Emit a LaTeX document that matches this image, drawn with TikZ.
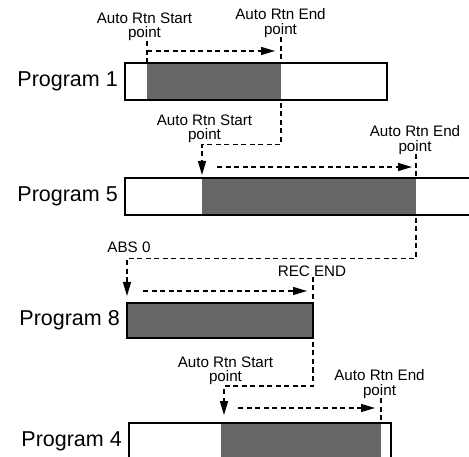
\documentclass[tikz,border=0pt]{standalone}
\usepackage{fontspec}
\setmainfont{Liberation Sans}
\definecolor{rungray}{RGB}{102,102,102}
\usetikzlibrary{arrows.meta,positioning,calc}

\begin{document}
\begin{tikzpicture}[x=1pt,y=-1pt,
  bar/.style={draw,line width=1.6pt,minimum height=37pt,inner sep=0pt,outer sep=0pt},
  runseg/.style={fill=rungray,minimum height=37pt,inner sep=0pt,outer sep=0pt},
  prog/.style={font=\fontsize{21.5}{24}\selectfont,inner sep=0pt},
  note/.style={font=\fontsize{15.2}{14.2}\selectfont,align=center,inner sep=0pt},
  guide/.style={line width=1.4pt,dash pattern=on 5pt off 3.5pt},
  flow/.style={guide,-{Triangle[length=14pt,width=8pt]}}
]
  \useasboundingbox (0,0) rectangle (469,457);
  \clip (0,0) rectangle (469,457);
  % Program 1
  \node[runseg,minimum width=134pt] (run1) at (214,81.5) {};
  \node[bar,minimum width=262pt] (bar1) at (256,81.5) {};
  \node[prog,left=7pt of bar1] (p1) {Program 1};
  \node[note] (s1) at (144.5,27) {Auto Rtn Start\\point};
  \node[note] (e1) at (280.5,23) {Auto Rtn End\\point};
  \draw[guide] (s1.south -| run1.north west) -- (run1.north west);
  \draw[guide] (e1.south -| run1.north east) -- (run1.north east);
  \draw[flow] ($(run1.north west)+(0,-12)$) -- ($(run1.north east)+(-6,-12)$);

  % Program 5
  \node[runseg,minimum width=214pt] (run2) at (309,196.5) {};
  \node[bar,minimum width=365pt] (bar5) at (307.5,196.5) {};
  \node[prog,left=7pt of bar5] (p5) {Program 5};
  \node[note] (s2) at (204.5,129) {Auto Rtn Start\\point};
  \node[note] (e2) at (415,140) {Auto Rtn End\\point};
  \draw[flow] ([yshift=-3pt]run1.south east) |- ([yshift=-1.5pt]s2.south) -| ([yshift=3pt]run2.north west);
  \draw[guide] (e2.south -| run2.north east) -- (run2.north east);
  \draw[flow] ($(run2.north west)+(15,-11)$) -- ($(run2.north east)+(-4,-11)$);

  % Program 8
  \node[bar,fill=rungray,minimum width=186pt,minimum height=35pt] (bar8) at (220,320.5) {};
  \node[prog,left=7pt of bar8] (p8) {Program 8};
  \node[note] (abs) at (129,247) {ABS 0};
  \node[note] (rec) at (312,271) {REC END};
  \draw[flow] ([yshift=-3pt]run2.south east) |- ([yshift=-6pt]abs.south) -| ([yshift=7pt]bar8.north west);
  \draw[guide] (rec.south -| bar8.north east) -- (bar8.north east);
  \draw[flow] ($(bar8.north west)+(16,-12)$) -- ($(bar8.north east)+(-6,-12)$);

  % Program 4
  \node[runseg,minimum width=160pt] (run4) at (301,441.5) {};
  \node[bar,minimum width=262pt] (bar4) at (260,441.5) {};
  \node[prog,left=7pt of bar4] (p4) {Program 4};
  \node[note] (s3) at (225.5,371) {Auto Rtn Start\\point};
  \node[note] (e3) at (379.5,384) {Auto Rtn End\\point};
  \draw[flow] ([yshift=-4pt]bar8.south east) |- ([yshift=-1pt]s3.south) -| ([xshift=3pt,yshift=8pt]run4.north west);
  \draw[guide] (e3.south -| run4.north east) -- (run4.north east);
  \draw[flow] ($(run4.north west)+(17,-15)$) -- ($(run4.north east)+(-6,-15)$);
\end{tikzpicture}
\end{document}
